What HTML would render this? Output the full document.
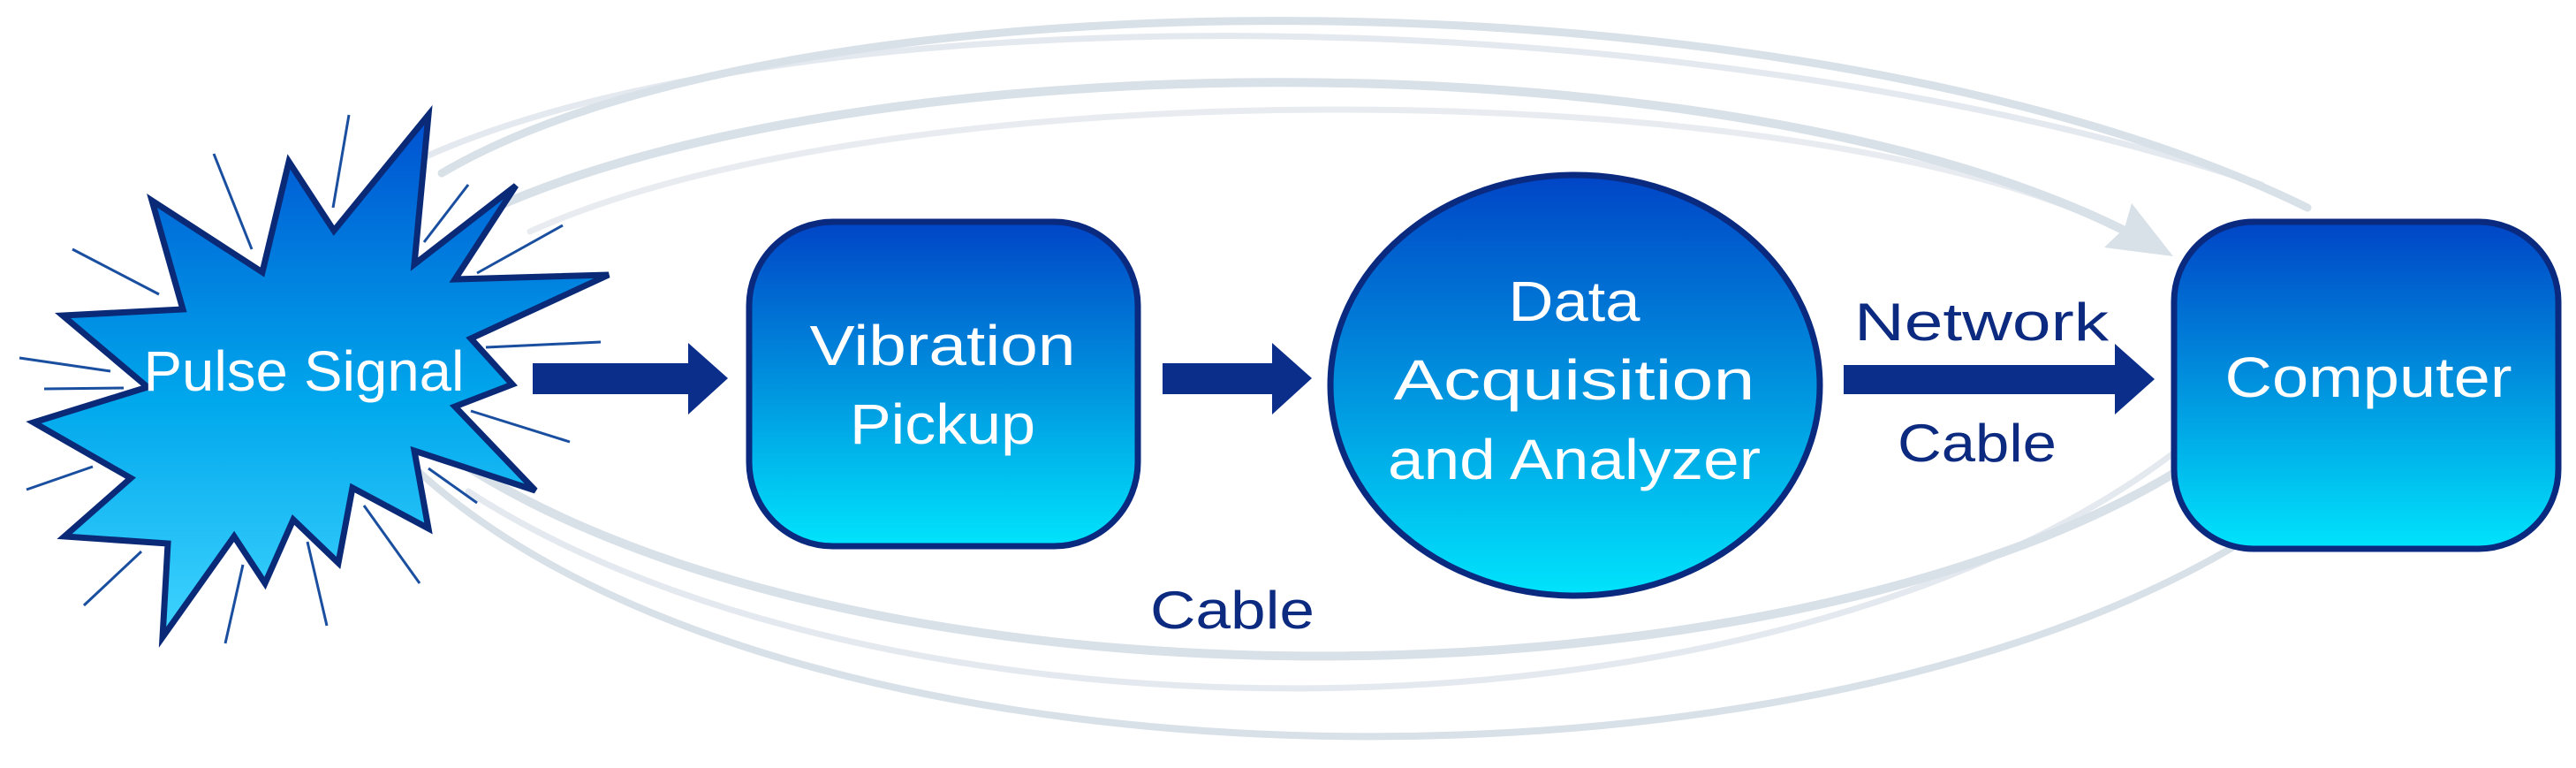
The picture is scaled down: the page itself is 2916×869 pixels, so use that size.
<!DOCTYPE html>
<html><head><meta charset="utf-8"><style>
html,body{margin:0;padding:0;background:#fff;}
svg{display:block}
text{font-family:"Liberation Sans",sans-serif;}
</style></head><body>
<svg width="2916" height="869" viewBox="0 0 2916 869" xmlns="http://www.w3.org/2000/svg">
<defs>
<linearGradient id="g" x1="0" y1="0" x2="0" y2="1">
<stop offset="0" stop-color="#0045c6"/><stop offset="0.5" stop-color="#0092de"/><stop offset="1" stop-color="#00e4fc"/>
</linearGradient>
<linearGradient id="gs" x1="0" y1="0" x2="0" y2="1">
<stop offset="0" stop-color="#0050d0"/><stop offset="0.55" stop-color="#00a8ec"/><stop offset="1" stop-color="#40d4ff"/>
</linearGradient>
</defs>
<g fill="none" stroke="#d8e0e8" stroke-linecap="round">
<path d="M500 196 C 900 -40, 2050 -40, 2612 235" stroke-width="9"/>
<path d="M560 235 C 1000 40, 2000 40, 2430 274" stroke-width="10"/>
<path d="M480 178 C 900 -10, 1900 -10, 2560 209" stroke-width="7" opacity="0.7"/>
<path d="M600 262 C 1000 80, 2000 80, 2380 250" stroke-width="7" opacity="0.6"/>
<path d="M470 487 C 900 820, 2000 820, 2470 530" stroke-width="10"/>
<path d="M470 530 C 900 930, 2150 930, 2620 556" stroke-width="8"/>
<path d="M530 556 C 1000 860, 2000 860, 2460 513" stroke-width="7" opacity="0.7"/>
</g>
<polygon points="2460,290 2413,230 2405,258 2382,280" fill="#d8e0e8"/>
<g stroke="#1a4fa0" stroke-width="3" fill="none">
<line x1="395" y1="130" x2="377" y2="235"/>
<line x1="242" y1="174" x2="285" y2="282"/>
<line x1="82" y1="282" x2="180" y2="333"/>
<line x1="530" y1="209" x2="480" y2="274"/>
<line x1="637" y1="255" x2="540" y2="309"/>
<line x1="22" y1="405" x2="125" y2="420"/>
<line x1="50" y1="440" x2="140" y2="439"/>
<line x1="550" y1="393" x2="680" y2="387"/>
<line x1="533" y1="465" x2="645" y2="500"/>
<line x1="30" y1="554" x2="105" y2="528"/>
<line x1="95" y1="685" x2="160" y2="624"/>
<line x1="485" y1="530" x2="540" y2="569"/>
<line x1="412" y1="572" x2="475" y2="660"/>
<line x1="348" y1="613" x2="370" y2="708"/>
<line x1="275" y1="639" x2="255" y2="728"/>
</g>
<polygon points="172,227 297,308 327,183 378,261 485,130 469,299 584,210 515,316 689,311 533,383 580,435 515,460 606,555 469,510 485,598 399,552 383,637 332,588 300,660 265,607 184,721 190,615 73,607 148,541 38,478 167,438 71,357 207,350" fill="url(#gs)" stroke="#0a2a78" stroke-width="7" stroke-linejoin="miter"/>
<text x="344" y="442" font-size="64" fill="#fff" text-anchor="middle" textLength="363" lengthAdjust="spacingAndGlyphs">Pulse Signal</text>
<g fill="#0b2e8a">
<polygon points="603,411 779,411 779,388 824,428 779,469 779,446 603,446"/>
<polygon points="1316,411 1440,411 1440,388 1485,428 1440,469 1440,446 1316,446"/>
<polygon points="2087,413 2394,413 2394,389 2439,429 2394,469 2394,446 2087,446"/>
</g>
<rect x="848" y="251" width="440" height="367" rx="95" fill="url(#g)" stroke="#0a2a80" stroke-width="7"/>
<text x="1067" y="413" font-size="64" fill="#fff" text-anchor="middle" textLength="301" lengthAdjust="spacingAndGlyphs">Vibration</text>
<text x="1067" y="502" font-size="64" fill="#fff" text-anchor="middle" textLength="210" lengthAdjust="spacingAndGlyphs">Pickup</text>
<ellipse cx="1783" cy="436" rx="277" ry="238" fill="url(#g)" stroke="#0a2a80" stroke-width="7"/>
<text x="1782" y="363" font-size="64" fill="#fff" text-anchor="middle" textLength="149" lengthAdjust="spacingAndGlyphs">Data</text>
<text x="1782" y="452" font-size="64" fill="#fff" text-anchor="middle" textLength="409" lengthAdjust="spacingAndGlyphs">Acquisition</text>
<text x="1782" y="542" font-size="64" fill="#fff" text-anchor="middle" textLength="422" lengthAdjust="spacingAndGlyphs">and Analyzer</text>
<rect x="2461" y="251" width="435" height="370" rx="90" fill="url(#g)" stroke="#0a2a80" stroke-width="7"/>
<text x="2681" y="449" font-size="64" fill="#fff" text-anchor="middle" textLength="325" lengthAdjust="spacingAndGlyphs">Computer</text>
<text x="1395" y="711" font-size="60" fill="#0b2a80" text-anchor="middle" textLength="186" lengthAdjust="spacingAndGlyphs">Cable</text>
<text x="2243" y="385" font-size="60" fill="#0b2a80" text-anchor="middle" textLength="288" lengthAdjust="spacingAndGlyphs">Network</text>
<text x="2238" y="522" font-size="60" fill="#0b2a80" text-anchor="middle" textLength="180" lengthAdjust="spacingAndGlyphs">Cable</text>
</svg>
</body></html>
